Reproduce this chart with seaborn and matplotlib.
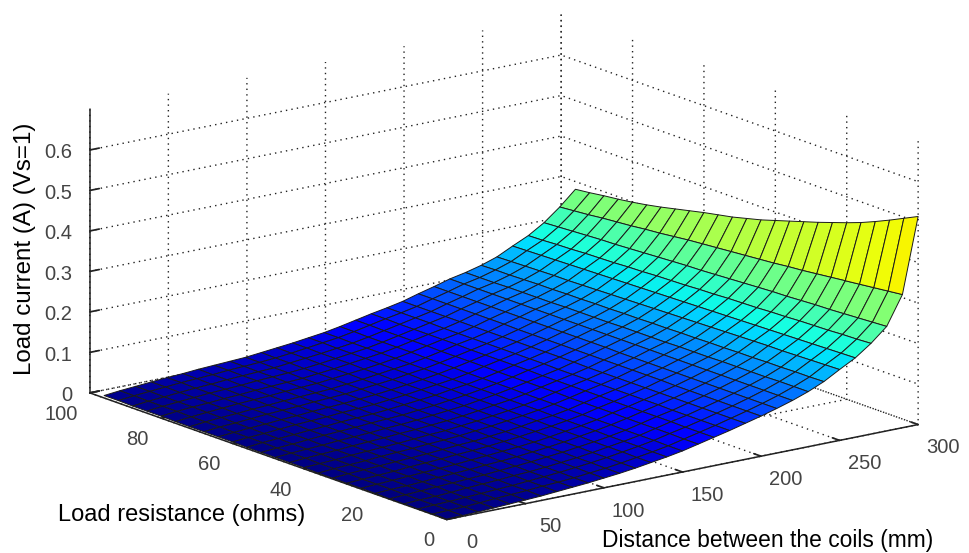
import numpy as np
import matplotlib
matplotlib.use("Agg")
import matplotlib.pyplot as plt
from matplotlib.transforms import ScaledTranslation
import seaborn as sns

distance_mm = [0, 10, 20, 30, 40, 50, 60, 70, 80, 90, 100, 110, 120, 130, 140, 150,
               160, 170, 180, 190, 200, 210, 220, 230, 240, 250, 260, 270, 280, 290, 300]
resistance_ohm = [0, 4, 8, 12, 16, 20, 24, 28, 32, 36, 40, 44, 48, 52, 56, 60,
                  64, 68, 72, 76, 80, 84, 88, 92, 96]
# one row per distance, one entry per resistance, in thousandths of an ampere
current_mA = [
    [1, 1, 1, 1, 1, 2, 2, 2, 2, 2, 3, 3, 3, 3, 3, 4, 4, 4, 4, 4, 5, 5, 5, 6, 6],
    [2, 2, 3, 3, 3, 4, 4, 4, 5, 5, 5, 6, 6, 6, 7, 7, 7, 8, 8, 8, 9, 9, 9, 10, 10],
    [3, 3, 4, 4, 5, 5, 6, 6, 7, 7, 7, 8, 8, 8, 9, 9, 10, 10, 11, 11, 12, 12, 12, 13, 13],
    [5, 5, 6, 6, 7, 7, 8, 8, 9, 9, 10, 10, 10, 11, 11, 12, 12, 13, 13, 14, 14, 15, 15, 16, 16],
    [7, 8, 8, 9, 9, 10, 10, 11, 11, 12, 12, 13, 13, 14, 14, 15, 15, 16, 16, 17, 17, 18, 18, 19, 19],
    [9, 10, 10, 11, 11, 12, 12, 13, 13, 14, 14, 15, 15, 16, 16, 17, 17, 18, 18, 19, 19, 20, 20, 21, 21],
    [11, 12, 12, 13, 13, 14, 14, 15, 15, 16, 16, 17, 17, 18, 19, 19, 20, 20, 21, 21, 22, 22, 23, 23, 24],
    [14, 15, 15, 16, 16, 17, 17, 18, 18, 19, 19, 20, 20, 21, 21, 22, 22, 23, 23, 24, 24, 25, 25, 26, 26],
    [17, 17, 18, 18, 19, 19, 20, 20, 21, 21, 22, 22, 22, 23, 23, 24, 24, 25, 25, 26, 26, 27, 27, 28, 28],
    [20, 20, 21, 21, 22, 22, 23, 23, 23, 24, 24, 25, 25, 25, 26, 26, 27, 27, 27, 28, 28, 29, 29, 30, 30],
    [24, 24, 25, 25, 26, 26, 26, 27, 27, 28, 28, 28, 29, 29, 30, 30, 30, 31, 31, 32, 32, 32, 33, 33, 34],
    [28, 28, 29, 29, 30, 30, 30, 31, 31, 32, 32, 32, 33, 33, 34, 34, 34, 35, 35, 36, 36, 36, 37, 37, 38],
    [33, 33, 34, 34, 35, 35, 35, 36, 36, 37, 37, 37, 37, 38, 38, 39, 39, 39, 40, 40, 41, 41, 41, 42, 42],
    [39, 39, 40, 40, 40, 41, 41, 41, 42, 42, 42, 43, 43, 43, 44, 44, 44, 45, 45, 45, 46, 46, 46, 47, 47],
    [45, 45, 46, 46, 46, 47, 47, 47, 47, 48, 48, 48, 49, 49, 49, 49, 50, 50, 50, 51, 51, 51, 51, 52, 52],
    [52, 52, 53, 53, 53, 54, 54, 54, 54, 55, 55, 55, 56, 56, 56, 56, 57, 57, 57, 58, 58, 58, 58, 59, 59],
    [61, 61, 62, 62, 62, 62, 63, 63, 63, 63, 64, 64, 64, 64, 64, 65, 65, 65, 65, 66, 66, 66, 66, 67, 67],
    [70, 70, 70, 71, 71, 71, 71, 71, 72, 72, 72, 72, 72, 73, 73, 73, 73, 73, 74, 74, 74, 74, 74, 75, 75],
    [79, 79, 79, 79, 79, 80, 80, 80, 80, 80, 80, 80, 80, 81, 81, 81, 81, 81, 81, 81, 81, 82, 82, 82, 82],
    [89, 89, 89, 89, 89, 89, 89, 89, 89, 89, 89, 89, 90, 90, 90, 90, 90, 90, 90, 90, 90, 90, 90, 90, 90],
    [99, 99, 99, 99, 99, 99, 99, 100, 100, 100, 100, 100, 100, 100, 100, 100, 100, 100, 101, 101, 101, 101, 101, 101, 101],
    [110, 110, 110, 110, 110, 110, 110, 110, 110, 110, 110, 110, 111, 111, 111, 111, 111, 111, 111, 111, 111, 111, 111, 111, 111],
    [122, 122, 122, 122, 122, 122, 122, 122, 122, 122, 122, 122, 122, 122, 122, 122, 122, 122, 122, 122, 122, 122, 122, 122, 122],
    [136, 136, 136, 135, 135, 135, 135, 134, 134, 134, 133, 133, 133, 133, 132, 132, 132, 132, 131, 131, 131, 131, 130, 130, 130],
    [153, 152, 152, 151, 151, 150, 150, 149, 149, 148, 148, 147, 147, 146, 146, 145, 145, 144, 144, 143, 143, 142, 141, 141, 140],
    [175, 174, 173, 172, 171, 171, 170, 169, 168, 167, 166, 165, 164, 163, 162, 161, 160, 159, 158, 157, 157, 156, 155, 154, 153],
    [196, 195, 194, 193, 192, 191, 190, 189, 188, 187, 186, 185, 184, 183, 182, 181, 180, 179, 178, 177, 176, 175, 174, 173, 172],
    [224, 222, 221, 219, 218, 217, 215, 214, 212, 211, 210, 208, 207, 205, 204, 203, 201, 200, 198, 197, 196, 194, 193, 191, 190],
    [258, 256, 254, 252, 250, 249, 247, 245, 244, 242, 240, 238, 236, 234, 233, 231, 229, 227, 225, 223, 222, 220, 218, 216, 214],
    [329, 325, 321, 317, 313, 309, 305, 301, 298, 294, 291, 288, 285, 282, 279, 276, 272, 268, 265, 261, 258, 255, 251, 248, 245],
    [514, 497, 480, 464, 449, 436, 424, 412, 401, 390, 379, 368, 359, 350, 343, 336, 328, 320, 312, 305, 299, 294, 290, 285, 281],
]
distance_ticks = [0, 50, 100, 150, 200, 250, 300]
resistance_ticks = [0, 20, 40, 60, 80, 100]
current_ticks = [0, 0.1, 0.2, 0.3, 0.4, 0.5, 0.6]
current_tick_labels = ["0", "0.1", "0.2", "0.3", "0.4", "0.5", "0.6"]
color_top_current = 0.505

sns.set_theme(style="white")
plt.rcParams["font.family"] = ["Liberation Sans", "DejaVu Sans"]

fig = plt.figure(figsize=(9.70, 5.53), dpi=100, facecolor="white")
ax = fig.add_axes([220 / 970, 2 / 553, 553 / 970, 1.0], projection="3d", proj_type="ortho")
ax.patch.set_alpha(0)
ax.view_init(elev=15.5, azim=-127)
ax.set_box_aspect((590, 593, 294), zoom=1.557)

X, Y = np.meshgrid(distance_mm, resistance_ohm, indexing="ij")
Z = np.array(current_mA, dtype=float) / 1000.0
jet = matplotlib.colormaps["jet"]
colors = jet(Z / color_top_current)
surface = ax.plot_surface(X, Y, Z, rstride=1, cstride=1, facecolors=colors, shade=False,
                          edgecolor="#1a1a1a", linewidth=0.7, antialiased=True)
surface.set_clip_on(False)

ax.set_xlim(0, 300, view_margin=0)
ax.set_ylim(0, 100, view_margin=0)
ax.set_zlim(0, 0.7, view_margin=0)
ax.set_xticks(distance_ticks)
ax.set_yticks(resistance_ticks)
ax.set_zticks(current_ticks)
ax.set_zticklabels(current_tick_labels)


def nudge_tick_labels(axis, dx_px, dy_px, ha="center"):
    """Shift an axis' tick labels by a fixed number of pixels from where mplot3d puts them."""
    original = axis.get_major_ticks

    def get_major_ticks(numticks=None):
        ticks = original(numticks)
        shift = ScaledTranslation(dx_px / 100, dy_px / 100, fig.dpi_scale_trans)
        for tick in ticks:
            tick.label1.set_transform(ax.transData + shift)
            tick.label1.set_ha(ha)
        return ticks

    axis.get_major_ticks = get_major_ticks


for axis in (ax.xaxis, ax.yaxis, ax.zaxis):
    axis.set_pane_color((1, 1, 1, 1))
    axis.pane.set_edgecolor("white")
    axis.line.set_color("#222222")
    axis.line.set_linewidth(1.1)
    axis._axinfo["grid"].update(color="#222222", linestyle=(0, (1, 3)), linewidth=1.0)
    axis._axinfo["tick"].update(inward_factor=0.0, outward_factor=0.25)
    axis.set_tick_params(labelsize=14.5, labelcolor="#444444", pad=4, color="#222222")

nudge_tick_labels(ax.xaxis, 4, 10)
nudge_tick_labels(ax.yaxis, 15, 10, ha="right")
nudge_tick_labels(ax.zaxis, 30, 5, ha="right")

ax.grid(True)
fig.text(182 / 970, 1 - 515 / 553, "Load resistance (ohms)", fontsize=17, color="#000000",
         ha="center", va="center")
fig.text(768 / 970, 1 - 541 / 553, "Distance between the coils (mm)", fontsize=16.4, color="#000000",
         ha="center", va="center")
fig.text(25 / 970, 1 - 249 / 553, "Load current (A) (Vs=1)", fontsize=17.4, color="#000000",
         rotation=90, ha="center", va="center")
fig.savefig("out.png", dpi=100)
